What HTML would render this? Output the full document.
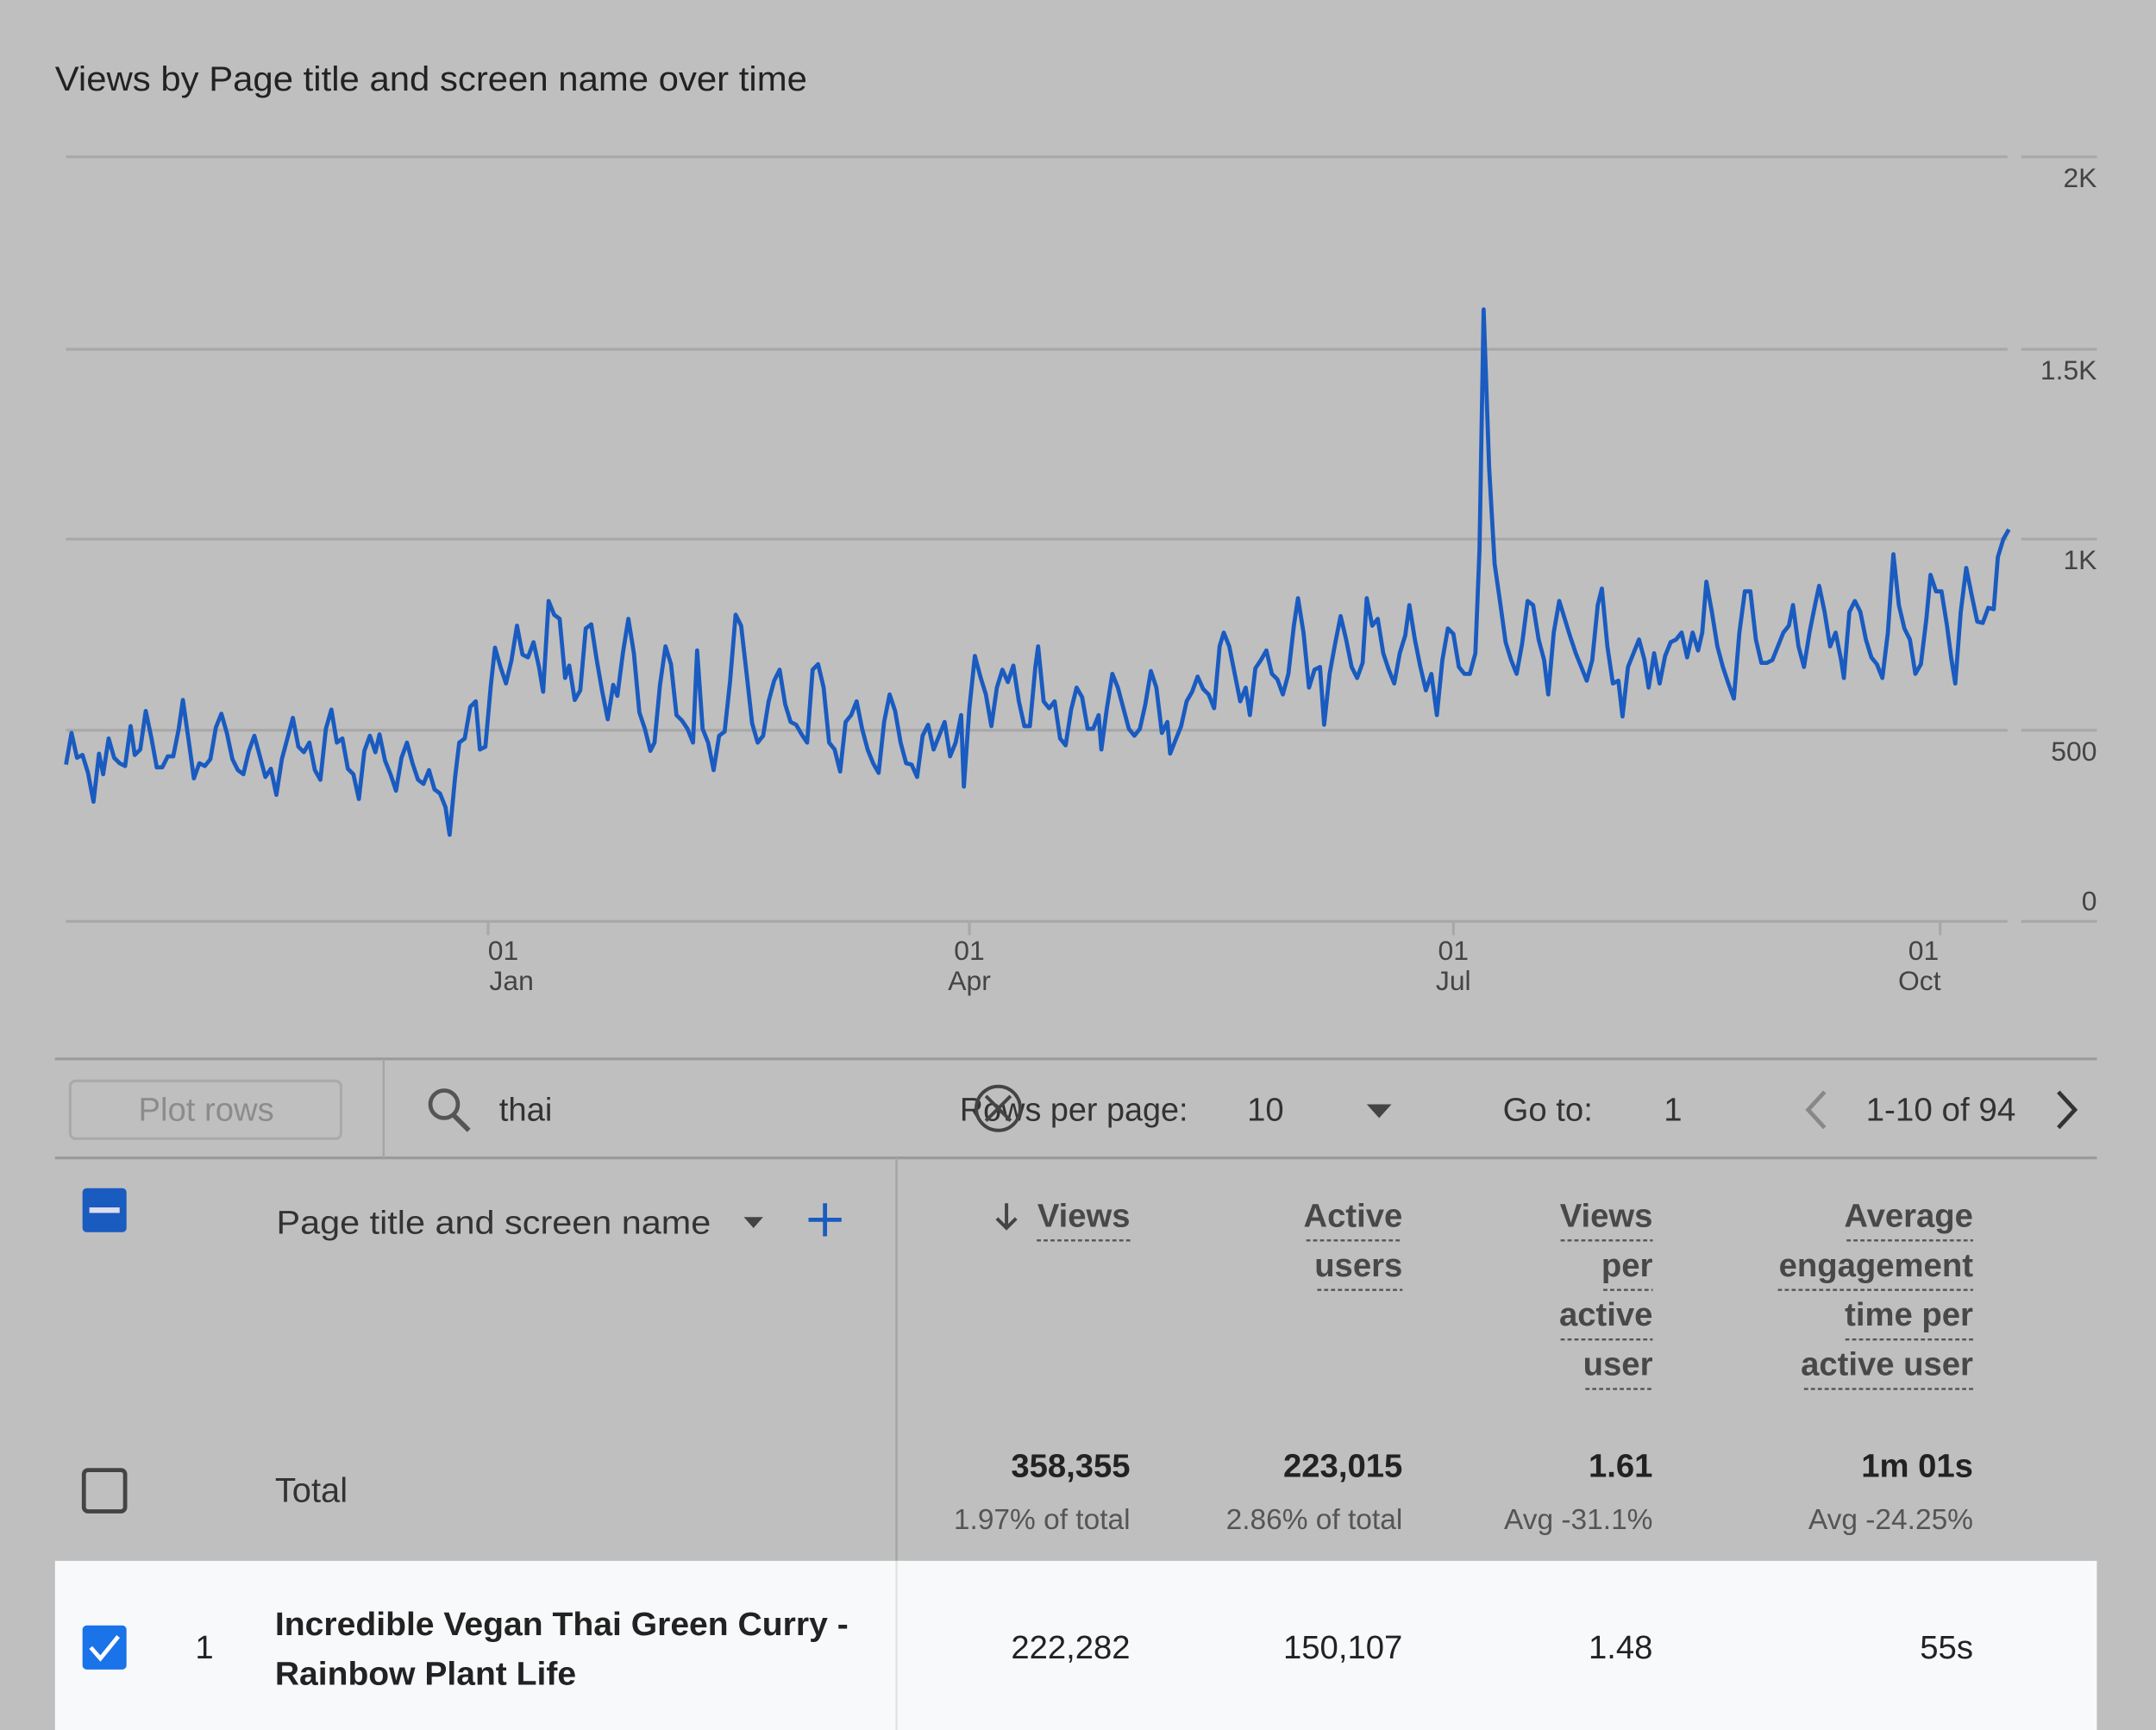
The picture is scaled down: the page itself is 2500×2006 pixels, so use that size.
<!DOCTYPE html>
<html><head><meta charset="utf-8"><style>
html,body{margin:0;padding:0;background:#bfbfbf;}
svg{display:block;}
text{font-family:"Liberation Sans",sans-serif;}
</style></head><body>
<svg width="2500" height="2006" viewBox="0 0 1568 1258" preserveAspectRatio="none" xmlns="http://www.w3.org/2000/svg">
<rect width="1568" height="1258" fill="#bfbfbf"/>
<text x="40" y="66" font-size="25" fill="#222" textLength="547" lengthAdjust="spacingAndGlyphs">Views by Page title and screen name over time</text>
<g stroke="#a8a8a8" stroke-width="2">
<line x1="48" y1="114" x2="1460" y2="114"/><line x1="1470" y1="114" x2="1525" y2="114"/>
<line x1="48" y1="254" x2="1460" y2="254"/><line x1="1470" y1="254" x2="1525" y2="254"/>
<line x1="48" y1="392" x2="1460" y2="392"/><line x1="1470" y1="392" x2="1525" y2="392"/>
<line x1="48" y1="531" x2="1460" y2="531"/><line x1="1470" y1="531" x2="1525" y2="531"/>
<line x1="48" y1="670" x2="1460" y2="670"/><line x1="1470" y1="670" x2="1525" y2="670"/>
<line x1="355" y1="670" x2="355" y2="680"/><line x1="705" y1="670" x2="705" y2="680"/>
<line x1="1057" y1="670" x2="1057" y2="680"/><line x1="1411" y1="670" x2="1411" y2="680"/>
</g>
<g font-size="20" fill="#444" text-anchor="end">
<text x="1525" y="136">2K</text><text x="1525" y="276">1.5K</text><text x="1525" y="414">1K</text>
<text x="1525" y="553">500</text><text x="1525" y="662">0</text>
</g>
<g font-size="20" fill="#444" text-anchor="middle">
<text x="366" y="698">01</text><text x="372" y="720">Jan</text>
<text x="705" y="698">01</text><text x="705" y="720">Apr</text>
<text x="1057" y="698">01</text><text x="1057" y="720">Jul</text>
<text x="1399" y="698">01</text><text x="1396" y="720">Oct</text>
</g>
<polyline fill="none" stroke="#1a5bc0" stroke-width="3" stroke-linejoin="round" points="48,556 52,533 56,551 60,549 64,562 68,583 72,548 75,563 79,537 83,551 87,555 91,557 95,528 98,549 102,545 106,517 110,536 114,558 118,558 122,550 126,550 130,530 133,509 137,537 141,566 145,555 149,557 153,552 157,529 161,519 165,533 169,552 173,560 177,563 181,546 185,535 189,550 193,565 197,559 201,578 205,552 209,537 213,522 217,543 221,547 225,540 229,560 233,567 237,530 241,516 245,540 249,537 253,559 257,563 261,581 265,546 269,535 273,547 276,534 280,553 284,563 288,575 292,551 296,540 300,555 304,567 308,570 312,560 316,574 320,577 324,587 327,607 331,565 334,540 338,537 342,514 346,510 349,545 353,543 357,498 360,471 364,485 368,497 372,480 376,455 380,476 384,478 388,467 392,485 395,503 399,437 403,447 407,450 411,493 414,484 418,509 422,502 426,457 430,454 434,480 438,503 442,523 446,498 449,506 453,475 457,450 461,475 465,518 469,530 473,546 476,540 480,498 484,470 488,483 492,520 496,524 500,530 504,540 507,473 511,530 515,540 519,560 523,535 527,532 531,495 535,447 539,455 543,490 547,526 551,540 555,535 559,510 563,495 567,487 571,512 575,525 579,527 583,534 587,540 591,487 595,483 599,500 603,540 607,545 611,561 615,525 619,520 623,510 627,530 631,545 635,555 639,562 643,525 647,505 651,517 655,540 659,555 663,556 667,565 671,535 675,527 679,545 683,535 687,525 691,550 695,540 699,520 701,572 705,515 709,477 713,492 717,505 721,528 725,500 729,487 733,496 737,484 741,510 745,528 749,528 753,485 755,470 759,510 763,515 767,510 771,537 775,542 779,516 783,500 787,507 791,530 795,530 799,520 801,545 805,515 809,490 813,500 817,515 821,530 825,535 829,530 833,512 837,488 841,500 845,533 849,525 851,548 855,538 859,528 863,510 867,503 871,492 875,501 879,505 883,515 887,470 890,460 894,470 898,490 902,510 906,500 909,520 913,486 917,480 921,473 925,490 929,494 933,505 937,490 941,455 944,435 948,460 952,500 956,487 960,485 963,527 967,490 971,468 975,448 979,465 983,485 987,493 991,482 994,435 998,455 1002,450 1006,475 1010,487 1014,497 1018,475 1022,462 1025,440 1029,465 1033,485 1037,502 1041,490 1045,520 1049,480 1053,457 1057,461 1061,485 1065,490 1069,490 1073,475 1076,400 1079,225 1083,340 1087,410 1091,438 1095,467 1099,480 1103,490 1107,468 1111,437 1115,440 1119,465 1123,480 1126,505 1130,460 1134,437 1138,450 1142,463 1146,475 1150,485 1154,495 1158,480 1162,440 1165,428 1169,470 1173,497 1177,495 1180,521 1184,485 1188,475 1192,465 1196,480 1199,500 1203,475 1207,497 1211,477 1215,467 1219,465 1223,460 1227,478 1231,460 1235,473 1238,460 1241,423 1245,445 1249,470 1253,485 1257,497 1261,508 1265,460 1269,430 1273,430 1277,465 1281,482 1285,482 1289,480 1293,470 1297,460 1301,455 1304,440 1308,470 1312,485 1316,460 1320,440 1323,426 1327,445 1331,470 1335,460 1339,480 1341,493 1345,445 1349,437 1353,445 1357,465 1361,478 1365,483 1369,493 1373,460 1377,403 1381,440 1385,457 1389,465 1393,490 1397,483 1401,450 1404,418 1408,430 1412,430 1416,455 1419,478 1422,497 1426,445 1430,413 1434,433 1438,452 1442,453 1446,442 1450,443 1453,405 1457,392 1461,385"/>
<line x1="40" y1="770" x2="1525" y2="770" stroke="#9a9a9a" stroke-width="2"/>
<line x1="40" y1="842" x2="1525" y2="842" stroke="#9a9a9a" stroke-width="2"/>
<line x1="279" y1="770" x2="279" y2="842" stroke="#a5a5a5" stroke-width="1.5"/>
<rect x="51" y="786" width="197" height="42" rx="4" fill="none" stroke="#aaa" stroke-width="2"/>
<text x="150" y="815" font-size="24" fill="#8c8c8c" text-anchor="middle">Plot rows</text>
<circle cx="323" cy="803" r="10" fill="none" stroke="#555" stroke-width="3"/>
<line x1="330" y1="811" x2="341" y2="822" stroke="#555" stroke-width="3.5"/>
<text x="363" y="815" font-size="24" fill="#333">thai</text>
<text x="698" y="815" font-size="24" fill="#333" textLength="166" lengthAdjust="spacingAndGlyphs">Rows per page:</text>
<circle cx="726" cy="806" r="16" fill="none" stroke="#444" stroke-width="2.5"/>
<path d="M717 797 L735 815 M735 797 L717 815" stroke="#444" stroke-width="2.5"/>
<text x="907" y="815" font-size="24" fill="#333">10</text>
<path d="M994 803 L1012 803 L1003 813 Z" fill="#444"/>
<text x="1093" y="815" font-size="24" fill="#333">Go to:</text>
<text x="1210" y="815" font-size="24" fill="#333">1</text>
<path d="M1327 794 L1315 807 L1327 820" fill="none" stroke="#888" stroke-width="3"/>
<text x="1357" y="815" font-size="24" fill="#333" textLength="109" lengthAdjust="spacingAndGlyphs">1-10 of 94</text>
<path d="M1497 794 L1509 807 L1497 820" fill="none" stroke="#333" stroke-width="3"/>
<line x1="652" y1="842" x2="652" y2="1258" stroke="#a5a5a5" stroke-width="1.5"/>
<rect x="60" y="864" width="32" height="32" rx="3" fill="#1a5bc0"/>
<rect x="65" y="878" width="22" height="4" fill="#dde"/>
<text x="201" y="897" font-size="24" fill="#333" textLength="316" lengthAdjust="spacingAndGlyphs">Page title and screen name</text>
<path d="M541 885 L555 885 L548 893 Z" fill="#444"/>
<path d="M600 875 V899 M588 887 H612" stroke="#1a5bc0" stroke-width="3"/>
<g font-size="24" fill="#333" text-anchor="end" font-weight="bold" fill-opacity="0.85">
<text x="822" y="892">Views</text>
<text x="1020" y="892">Active</text><text x="1020" y="928">users</text>
<text x="1202" y="892">Views</text><text x="1202" y="928">per</text><text x="1202" y="964">active</text><text x="1202" y="1000">user</text>
<text x="1435" y="892">Average</text><text x="1435" y="928">engagement</text><text x="1435" y="964">time per</text><text x="1435" y="1000">active user</text>
</g>
<path d="M732 875 V893 M725 886 L732 893 L739 886" fill="none" stroke="#444" stroke-width="2.5"/>
<g stroke="#555" stroke-width="1.5" stroke-dasharray="3,2">
<line x1="754" y1="902" x2="822" y2="902"/>
<line x1="950" y1="902" x2="1020" y2="902"/><line x1="958" y1="938" x2="1020" y2="938"/>
<line x1="1135" y1="902" x2="1202" y2="902"/><line x1="1166" y1="938" x2="1202" y2="938"/><line x1="1135" y1="974" x2="1202" y2="974"/><line x1="1153" y1="1010" x2="1202" y2="1010"/>
<line x1="1343" y1="902" x2="1435" y2="902"/><line x1="1293" y1="938" x2="1435" y2="938"/><line x1="1342" y1="974" x2="1435" y2="974"/><line x1="1312" y1="1010" x2="1435" y2="1010"/>
</g>
<rect x="61" y="1069" width="30" height="30" rx="3" fill="none" stroke="#444" stroke-width="3"/>
<text x="200" y="1092" font-size="25" fill="#333">Total</text>
<g font-size="24" fill="#222" text-anchor="end" font-weight="bold">
<text x="822" y="1074">358,355</text><text x="1020" y="1074">223,015</text><text x="1202" y="1074">1.61</text><text x="1435" y="1074">1m 01s</text>
</g>
<g font-size="21" fill="#555" text-anchor="end">
<text x="822" y="1112">1.97% of total</text><text x="1020" y="1112">2.86% of total</text><text x="1202" y="1112">Avg -31.1%</text><text x="1435" y="1112">Avg -24.25%</text>
</g>
<rect x="40" y="1135" width="1485" height="123" fill="#f8f9fb"/>
<line x1="652" y1="1135" x2="652" y2="1258" stroke="#e2e2e2" stroke-width="1.5"/>
<rect x="60" y="1182" width="32" height="32" rx="3" fill="#1a73e8"/>
<path d="M66 1198 L73 1206 L86 1190" fill="none" stroke="#fff" stroke-width="3"/>
<text x="142" y="1206" font-size="24" fill="#222">1</text>
<text x="200" y="1189" font-size="24" fill="#222" font-weight="bold" textLength="417" lengthAdjust="spacingAndGlyphs">Incredible Vegan Thai Green Curry -</text>
<text x="200" y="1225" font-size="24" fill="#222" font-weight="bold" textLength="219" lengthAdjust="spacingAndGlyphs">Rainbow Plant Life</text>
<g font-size="24" fill="#222" text-anchor="end">
<text x="822" y="1206">222,282</text><text x="1020" y="1206">150,107</text><text x="1202" y="1206">1.48</text><text x="1435" y="1206">55s</text>
</g>
</svg>
</body></html>
